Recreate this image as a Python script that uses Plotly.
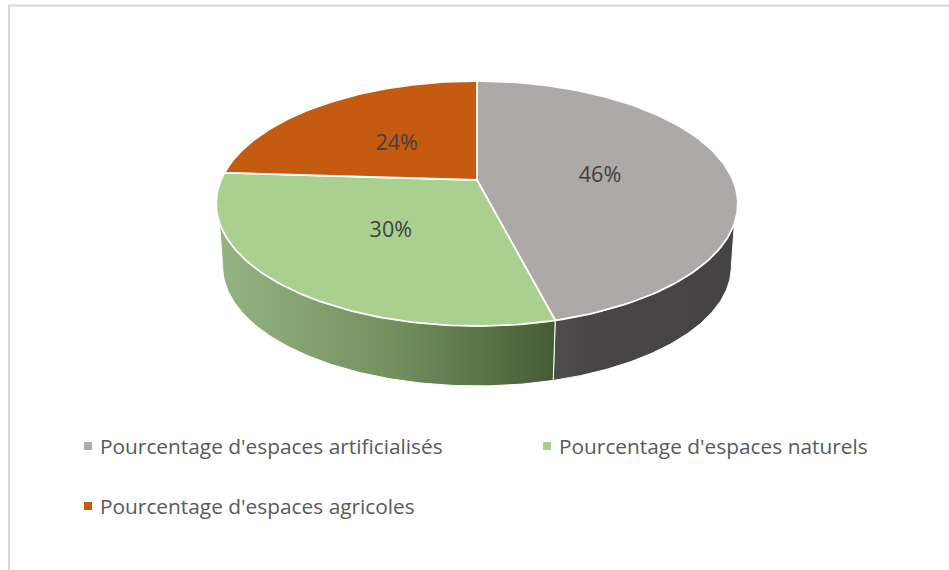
import numpy as np
import plotly.graph_objects as go

labels = ["Pourcentage d'espaces artificialisés", "Pourcentage d'espaces naturels", "Pourcentage d'espaces agricoles"]
values = [46, 30, 24]
top_colors = ["#ADA9A8", "#A9D08E", "#C55A11"]
wall_scales = {0: [[0, "#4F4C4C"], [0.25, "#474545"], [1, "#454343"]],
               1: [[0, "#93B481"], [0.5, "#749260"], [1, "#465B35"]]}
# Perspective model of the tilted disc, in page pixels
CX, CY, A, B, K = 477.0, 180.0, 256.0, 118.0, 0.1918
BOTTOM_Y, BOTTOM_SCALE = 243.6, 0.975
# silhouette angles of the side walls (degrees clockwise from 12 o'clock)
WALL_TOP_LIMITS = {0: 110.0, 1: 250.0}
WALL_BOTTOM_LIMITS = {0: 101.0, 1: 259.0}
# legend placement, page pixels
LEGEND_MARKER_X = [88, 547, 88]
LEGEND_TEXT_X = [100, 559, 100]
LEGEND_Y = [446, 446, 506]
LABEL_DROP = 4


def proj(deg, r=1.0, bottom=False):
    t = np.radians(deg)
    X, Y = r * np.sin(t), r * np.cos(t)
    d = 1 + K * Y
    x, y = A * X / d, -B * Y / d
    if bottom:
        return CX + BOTTOM_SCALE * x, BOTTOM_Y + BOTTOM_SCALE * y
    return CX + x, CY + y


def arc(a, b, bottom=False):
    return proj(np.linspace(a, b, 120), bottom=bottom)


edges = np.concatenate([[0], np.cumsum(values)]) * 360.0 / sum(values)
fig = go.Figure()

# side walls
cut = edges[1]
for i in (0, 1):
    tx, ty = arc(WALL_TOP_LIMITS[i], cut)
    bx, by = arc(cut, WALL_BOTTOM_LIMITS[i], bottom=True)
    xs, ys = np.concatenate([tx, bx, tx[:1]]), np.concatenate([ty, by, ty[:1]])
    fig.add_trace(go.Scatter(x=xs, y=ys, mode="lines", fill="toself", line=dict(color="white", width=1),
                             fillgradient=dict(type="horizontal", colorscale=wall_scales[i]),
                             hoverinfo="skip", showlegend=False))

# top faces
for i, v in enumerate(values):
    ax, ay = arc(edges[i], edges[i + 1])
    xs = np.concatenate([[CX], ax, [CX]])
    ys = np.concatenate([[CY], ay, [CY]])
    fig.add_trace(go.Scatter(x=xs, y=ys, mode="lines", fill="toself", fillcolor=top_colors[i],
                             line=dict(color="white", width=1.8), hoverinfo="skip", showlegend=False))

# data labels
mids = (edges[:-1] + edges[1:]) / 2
lx, ly = proj(mids, r=0.49)
fig.add_trace(go.Scatter(x=lx, y=ly + LABEL_DROP, mode="text", text=[f"{v}%" for v in values],
                         textfont=dict(family="Open Sans", size=21.5, color="#404040"),
                         hoverinfo="skip", showlegend=False))

# legend entries
annotations = []
for i, name in enumerate(labels):
    fig.add_trace(go.Scatter(x=[LEGEND_MARKER_X[i]], y=[LEGEND_Y[i]], mode="markers", name=name,
                             marker=dict(symbol="square", size=8, color=top_colors[i]),
                             hoverinfo="skip", showlegend=False))
    annotations.append(dict(x=LEGEND_TEXT_X[i], y=LEGEND_Y[i], xref="x", yref="y", text=name, showarrow=False,
                            xanchor="left", yanchor="middle", xshift=-2,
                            font=dict(family="Open Sans", size=20.85, color="#595959")))

fig.update_layout(
    width=949, height=570, margin=dict(l=0, r=0, t=0, b=0), autosize=False,
    paper_bgcolor="white", plot_bgcolor="white",
    xaxis=dict(range=[0, 949], visible=False),
    yaxis=dict(range=[570, 0], visible=False),
    annotations=annotations,
    shapes=[
        dict(type="line", xref="x", yref="y", x0=9, x1=9, y0=5.5, y1=570, line=dict(color="#D9D9D9", width=2)),
        dict(type="line", xref="x", yref="y", x0=8, x1=949, y0=5.5, y1=5.5, line=dict(color="#D9D9D9", width=2)),
    ],
)
fig.write_html("out.html", config=dict(displayModeBar=False),
               post_script="document.body.style.margin='0';document.documentElement.style.overflow='hidden';")
